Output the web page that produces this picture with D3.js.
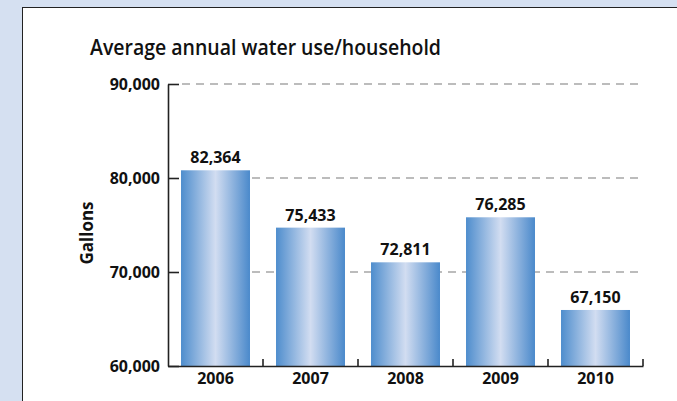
<!DOCTYPE html>
<meta charset="utf-8">
<html>
<head>
  <title>Average annual water use/household</title>
  <script src="https://d3js.org/d3.v7.min.js"></script>
  <style>
    body { margin: 0; background: #d5e0f1; }
    text { font-family: "Open Sans", sans-serif; fill: #111; }
  </style>
</head>
<body>
<div id="chart"></div>
<script>
  var years = ["2006", "2007", "2008", "2009", "2010"];
  // printed labels
  var gallons = [82364, 75433, 72811, 76285, 67150];
  // bar tops as drawn in the picture (they sit a bit below their labels)
  var barLevels = [80820, 74720, 71030, 75820, 65960];
  var yTicks = [60000, 70000, 80000, 90000];
  var gridTicks = [70000, 80000, 90000];

  var W = 677, H = 401;
  var svg = d3.select("#chart").append("svg")
    .attr("width", W).attr("height", H);

  // white panel
  svg.append("rect")
    .attr("x", 22.5).attr("y", 7.5)
    .attr("width", W).attr("height", H)
    .attr("fill", "#fff").attr("stroke", "#222").attr("stroke-width", 1);

  var grad = svg.append("defs").append("linearGradient")
    .attr("id", "barGrad").attr("x1", "0%").attr("x2", "100%").attr("y1", "0%").attr("y2", "0%");
  grad.append("stop").attr("offset", "0%").attr("stop-color", "#4e8dcd");
  grad.append("stop").attr("offset", "50%").attr("stop-color", "#d2ddf1");
  grad.append("stop").attr("offset", "100%").attr("stop-color", "#4a89cb");

  var plotLeft = 168, plotRight = 643, plotTop = 84, plotBottom = 366;

  var y = d3.scaleLinear().domain([60000, 90000]).range([plotBottom, plotTop]);
  var x = d3.scaleBand().domain(years).range([plotLeft, plotRight])
    .paddingInner(0.274).paddingOuter(0.137);

  var fmt = d3.format(",");

  // title
  svg.append("text")
    .attr("x", 90).attr("y", 55)
    .attr("font-size", 21.5).attr("font-weight", 600)
    .attr("textLength", 351).attr("lengthAdjust", "spacingAndGlyphs")
    .text("Average annual water use/household");

  // dashed grid
  svg.append("g").selectAll("line")
    .data(gridTicks).enter().append("line")
    .attr("x1", plotLeft + 14).attr("x2", plotRight)
    .attr("y1", function (d) { return y(d); })
    .attr("y2", function (d) { return y(d); })
    .attr("stroke", "#bcbcbc").attr("stroke-width", 2)
    .attr("stroke-dasharray", "8,6");

  // bars
  svg.append("g").selectAll("rect")
    .data(years).enter().append("rect")
    .attr("x", function (d) { return x(d); })
    .attr("y", function (d, i) { return y(barLevels[i]); })
    .attr("width", x.bandwidth())
    .attr("height", function (d, i) { return plotBottom - y(barLevels[i]); })
    .attr("fill", "url(#barGrad)");

  // value labels
  svg.append("g").selectAll("text")
    .data(years).enter().append("text")
    .attr("x", function (d) { return x(d) + x.bandwidth() / 2; })
    .attr("y", function (d, i) { return y(barLevels[i]) - 7; })
    .attr("text-anchor", "middle")
    .attr("font-size", 16).attr("font-weight", 700)
    .text(function (d, i) { return fmt(gallons[i]); });

  // y axis
  var yAxis = svg.append("g")
    .attr("transform", "translate(" + plotLeft + ",0)")
    .call(d3.axisLeft(y).tickValues(yTicks).tickFormat(fmt)
      .tickSizeInner(-11).tickSizeOuter(0).tickPadding(8));
  yAxis.select(".domain").attr("stroke", "#222").attr("stroke-width", 1.6);
  yAxis.selectAll(".tick line").attr("stroke", "#222").attr("stroke-width", 1.6);
  yAxis.selectAll(".tick text")
    .attr("font-family", "Open Sans").attr("font-size", 16).attr("font-weight", 700)
    .attr("fill", "#111");

  // x axis
  var xAxis = svg.append("g")
    .attr("transform", "translate(0," + plotBottom + ")")
    .call(d3.axisBottom(x).tickSize(0).tickPadding(7));
  xAxis.select(".domain").attr("stroke", "#222").attr("stroke-width", 1.6);
  xAxis.selectAll(".tick text")
    .attr("font-family", "Open Sans").attr("font-size", 16).attr("font-weight", 700)
    .attr("fill", "#111").attr("dy", "0.71em");

  // category separators
  var step = x.step();
  xAxis.selectAll(".sep")
    .data(years).enter().append("line")
    .attr("x1", function (d) { return x(d) + x.bandwidth() + step * x.paddingInner() / 2; })
    .attr("x2", function (d) { return x(d) + x.bandwidth() + step * x.paddingInner() / 2; })
    .attr("y1", 0).attr("y2", -7)
    .attr("stroke", "#222").attr("stroke-width", 1.6);

  // axis title
  svg.append("text")
    .attr("transform", "translate(93,233) rotate(-90)")
    .attr("text-anchor", "middle")
    .attr("font-size", 17).attr("font-weight", 700)
    .text("Gallons");
</script>
</body>
</html>
